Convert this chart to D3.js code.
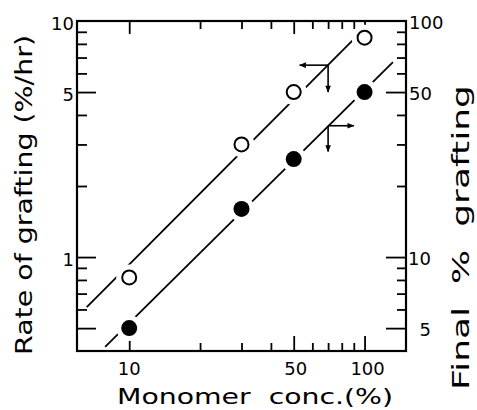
<!DOCTYPE html>
<html>
<head>
<meta charset="utf-8">
<script src="https://cdn.jsdelivr.net/npm/d3@7"></script>
<style>
  html, body { margin: 0; padding: 0; background: #fff; }
  svg { display: block; }
  text { font-family: "DejaVu Sans", sans-serif; fill: #000; }
</style>
</head>
<body>
<svg id="chart" width="477" height="410"></svg>
<script>
// Monomer concentration (%) for each measurement
const conc = [10, 30, 50, 100];
// Rate of grafting (%/hr), left axis, open circles
const rate = [0.82, 3.0, 5.0, 8.5];
// Final % grafting, right axis, filled circles
const finalGraft = [5.0, 16, 26, 50];

// Straight-line fits on log-log axes: [conc, value] end points
const rateFit = [[6.6, 0.614], [100, 9.3]];
const finalFit = [[7.9, 4.16], [132, 67]];

// Pointer arrows: start on the fit line, then horizontal and vertical end values
const rateArrowFrom = [70, 6.5];
const rateArrowTo = [53, 5.0];
const finalArrowFrom = [70, 36];
const finalArrowTo = [90, 28];

// Axis ticks
const xDomain = [6, 150];
const xMajor = [10, 50, 100];
const xMinor = [20, 30, 40, 60, 70, 80, 90];
const xLabels = [10, 50, 100];

const leftDomain = [0.4, 10];
const leftMajor = [0.5, 1, 5];
const leftMinor = [0.6, 0.7, 0.8, 0.9, 2, 3, 4, 6, 7, 8, 9];
const leftLabels = [1, 5, 10];

const rightDomain = [4, 100];
const rightMajor = [5, 10, 50];
const rightMinor = [6, 7, 8, 9, 20, 30, 40, 60, 70, 80, 90];
const rightLabels = [5, 10, 50, 100];

const svg = d3.select("#chart");
const L = 77, R = 406, T = 21, B = 351;

const x = d3.scaleLog().domain(xDomain).range([L, R]);
const yL = d3.scaleLog().domain(leftDomain).range([B, T]);
const yR = d3.scaleLog().domain(rightDomain).range([B, T]);

const stroke = "#000";

// Inward ticks on all four sides
function ticks(axisFn, scale, values, size, transform) {
  const g = svg.append("g")
    .attr("transform", transform)
    .call(axisFn(scale).tickValues(values).tickSizeInner(-size).tickSizeOuter(0).tickFormat(""));
  g.select(".domain").remove();
  g.selectAll(".tick line").attr("stroke", stroke).attr("stroke-width", 1.8);
  return g;
}
ticks(d3.axisBottom, x, xMajor, 15, `translate(0,${B})`);
ticks(d3.axisBottom, x, xMinor, 8, `translate(0,${B})`);
ticks(d3.axisTop, x, xMajor, 13, `translate(0,${T})`);
ticks(d3.axisTop, x, xMinor, 8, `translate(0,${T})`);
ticks(d3.axisLeft, yL, leftMajor, 19, `translate(${L},0)`);
ticks(d3.axisLeft, yL, leftMinor, 10, `translate(${L},0)`);
ticks(d3.axisRight, yR, rightMajor, 20, `translate(${R},0)`);
ticks(d3.axisRight, yR, rightMinor, 9, `translate(${R},0)`);

// Tick labels
svg.append("g").selectAll("text").data(xLabels).join("text")
  .attr("x", d => x(d) + (d === 100 ? 3 : d === 50 ? 2 : 0))
  .attr("y", 375)
  .attr("text-anchor", "middle")
  .attr("font-size", 18)
  .text(d => d);

svg.append("g").selectAll("text").data(leftLabels).join("text")
  .attr("x", 74)
  .attr("y", d => yL(d) + 3)
  .attr("dy", "0.35em")
  .attr("text-anchor", "end")
  .attr("font-size", 18)
  .text(d => d);

// Right labels: two-digit and one-digit values share a right edge, the rest a left edge
svg.append("g").selectAll("text").data(rightLabels).join("text")
  .attr("x", d => d < 50 ? 431 : 409)
  .attr("y", d => yR(d) + 2)
  .attr("dy", "0.35em")
  .attr("text-anchor", d => d < 50 ? "end" : "start")
  .attr("font-size", 18)
  .text(d => d);

// Axis titles (stretched to the width of the lettering)
svg.append("text")
  .attr("x", 117).attr("y", 404)
  .attr("font-size", 22)
  .attr("textLength", 276)
  .attr("lengthAdjust", "spacingAndGlyphs")
  .style("white-space", "pre")
  .text("Monomer  conc.(%)");

svg.append("text")
  .attr("transform", `translate(32,355) rotate(-90)`)
  .attr("font-size", 23)
  .attr("textLength", 320)
  .attr("lengthAdjust", "spacingAndGlyphs")
  .text("Rate of grafting (%/hr)");

svg.append("text")
  .attr("transform", `translate(469,390) rotate(-90)`)
  .attr("font-size", 23)
  .attr("textLength", 305)
  .attr("lengthAdjust", "spacingAndGlyphs")
  .style("white-space", "pre")
  .text("Final  %  grafting");

// Fit lines
const lineL = d3.line().x(d => x(d[0])).y(d => yL(d[1]));
const lineR = d3.line().x(d => x(d[0])).y(d => yR(d[1]));
svg.append("path").attr("d", lineL(rateFit)).attr("fill", "none").attr("stroke", stroke).attr("stroke-width", 1.8);
svg.append("path").attr("d", lineR(finalFit)).attr("fill", "none").attr("stroke", stroke).attr("stroke-width", 1.8);

// Arrow heads
const defs = svg.append("defs");
defs.append("marker")
  .attr("id", "head")
  .attr("viewBox", "0 0 10 10")
  .attr("refX", 9).attr("refY", 5)
  .attr("markerUnits", "userSpaceOnUse")
  .attr("markerWidth", 9).attr("markerHeight", 7)
  .attr("orient", "auto")
  .append("path").attr("d", "M0,1 L10,5 L0,9 Z").attr("fill", stroke);

function arrows(from, to, yScale) {
  const x0 = x(from[0]), y0 = yScale(from[1]);
  svg.append("line").attr("x1", x0).attr("y1", y0).attr("x2", x(to[0])).attr("y2", y0)
    .attr("stroke", stroke).attr("stroke-width", 1.6).attr("marker-end", "url(#head)");
  svg.append("line").attr("x1", x0).attr("y1", y0).attr("x2", x0).attr("y2", yScale(to[1]))
    .attr("stroke", stroke).attr("stroke-width", 1.6).attr("marker-end", "url(#head)");
}
arrows(rateArrowFrom, rateArrowTo, yL);
arrows(finalArrowFrom, finalArrowTo, yR);

// Gaps in the fit lines around each marker
const rateData = conc.map((c, i) => [c, rate[i]]);
const finalData = conc.map((c, i) => [c, finalGraft[i]]);
svg.append("g").selectAll("circle").data(rateData).join("circle")
  .attr("cx", d => x(d[0])).attr("cy", d => yL(d[1])).attr("r", 13).attr("fill", "#fff");
svg.append("g").selectAll("circle").data(finalData).join("circle")
  .attr("cx", d => x(d[0])).attr("cy", d => yR(d[1])).attr("r", 13).attr("fill", "#fff");

// Markers
svg.append("g").selectAll("circle").data(rateData).join("circle")
  .attr("cx", d => x(d[0])).attr("cy", d => yL(d[1])).attr("r", 7)
  .attr("fill", "#fff").attr("stroke", stroke).attr("stroke-width", 2);
svg.append("g").selectAll("circle").data(finalData).join("circle")
  .attr("cx", d => x(d[0])).attr("cy", d => yR(d[1])).attr("r", 8)
  .attr("fill", stroke);

// Frame
svg.append("rect")
  .attr("x", L).attr("y", T).attr("width", R - L).attr("height", B - T)
  .attr("fill", "none").attr("stroke", stroke).attr("stroke-width", 2.2);
</script>
</body>
</html>
